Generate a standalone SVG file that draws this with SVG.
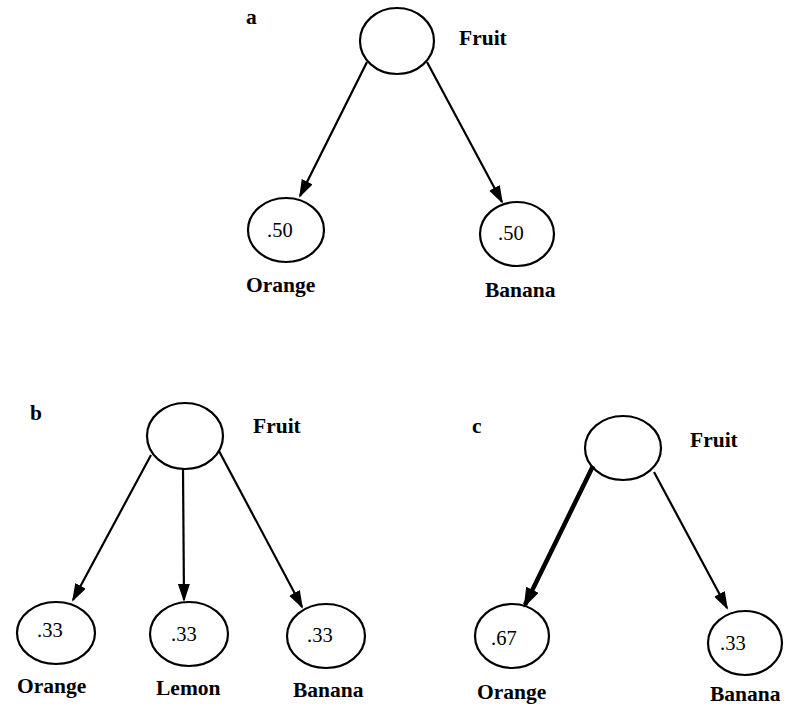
<svg xmlns="http://www.w3.org/2000/svg" width="787" height="706" viewBox="0 0 787 706">
<style>
.node{fill:none;stroke:#000;stroke-width:2.2}
.lbl{font-family:"Liberation Serif",serif;font-weight:bold;font-size:21.5px;fill:#000}
.num{font-family:"Liberation Serif",serif;font-size:20.5px;fill:#000}
.edge{stroke:#000;stroke-width:2.2;fill:none;marker-end:url(#ah)}
.thick{stroke-width:4.5;marker-end:url(#ahb)}
</style>
<defs>
<marker id="ah" markerUnits="userSpaceOnUse" markerWidth="20" markerHeight="14" refX="16" refY="6" orient="auto">
<path d="M0,0 L18,6 L0,12 z" fill="#000"/>
</marker>
<marker id="ahb" markerUnits="userSpaceOnUse" markerWidth="22" markerHeight="16" refX="17" refY="7" orient="auto">
<path d="M0,0 L20,7 L0,14 z" fill="#000"/>
</marker>
</defs>
<rect width="787" height="706" fill="#fff"/>
<text class="lbl" x="246" y="24">a</text>
<text class="lbl" x="30" y="420">b</text>
<text class="lbl" x="472" y="433">c</text>
<g id="connectors">
<line class="edge" x1="367" y1="62" x2="300" y2="196"/>
<line class="edge" x1="427" y1="62" x2="502" y2="202"/>
<line class="edge" x1="151" y1="455" x2="73" y2="600"/>
<line class="edge" x1="183" y1="468" x2="184" y2="600"/>
<line class="edge" x1="219" y1="451" x2="302" y2="607"/>
<line class="edge thick" x1="593" y1="466" x2="525" y2="605"/>
<line class="edge" x1="654" y1="472" x2="727" y2="608"/>
</g>
<g id="a-fruit"><ellipse class="node" cx="397" cy="41" rx="37" ry="33"/><text class="lbl" x="459" y="45">Fruit</text></g>
<g id="a-orange"><ellipse class="node" cx="286" cy="230" rx="38" ry="32"/><text class="num" x="267" y="237">.50</text><text class="lbl" x="246" y="292">Orange</text></g>
<g id="a-banana"><ellipse class="node" cx="517" cy="234" rx="37" ry="32"/><text class="num" x="498" y="240">.50</text><text class="lbl" x="485" y="297">Banana</text></g>
<g id="b-fruit"><ellipse class="node" cx="185" cy="436" rx="38" ry="33"/><text class="lbl" x="253" y="433">Fruit</text></g>
<g id="b-orange"><ellipse class="node" cx="56" cy="633" rx="39" ry="31"/><text class="num" x="37" y="637">.33</text><text class="lbl" x="17" y="693">Orange</text></g>
<g id="b-lemon"><ellipse class="node" cx="189" cy="634" rx="39" ry="32"/><text class="num" x="171" y="641">.33</text><text class="lbl" x="156" y="695">Lemon</text></g>
<g id="b-banana"><ellipse class="node" cx="326" cy="636" rx="39" ry="32"/><text class="num" x="307" y="642">.33</text><text class="lbl" x="293" y="697">Banana</text></g>
<g id="c-fruit"><ellipse class="node" cx="623" cy="448" rx="38" ry="32"/><text class="lbl" x="690" y="447">Fruit</text></g>
<g id="c-orange"><ellipse class="node" cx="512" cy="636" rx="37" ry="32"/><text class="num" x="491" y="645">.67</text><text class="lbl" x="477" y="699">Orange</text></g>
<g id="c-banana"><ellipse class="node" cx="745" cy="643" rx="37" ry="32"/><text class="num" x="720" y="650">.33</text><text class="lbl" x="710" y="701">Banana</text></g>
</svg>
